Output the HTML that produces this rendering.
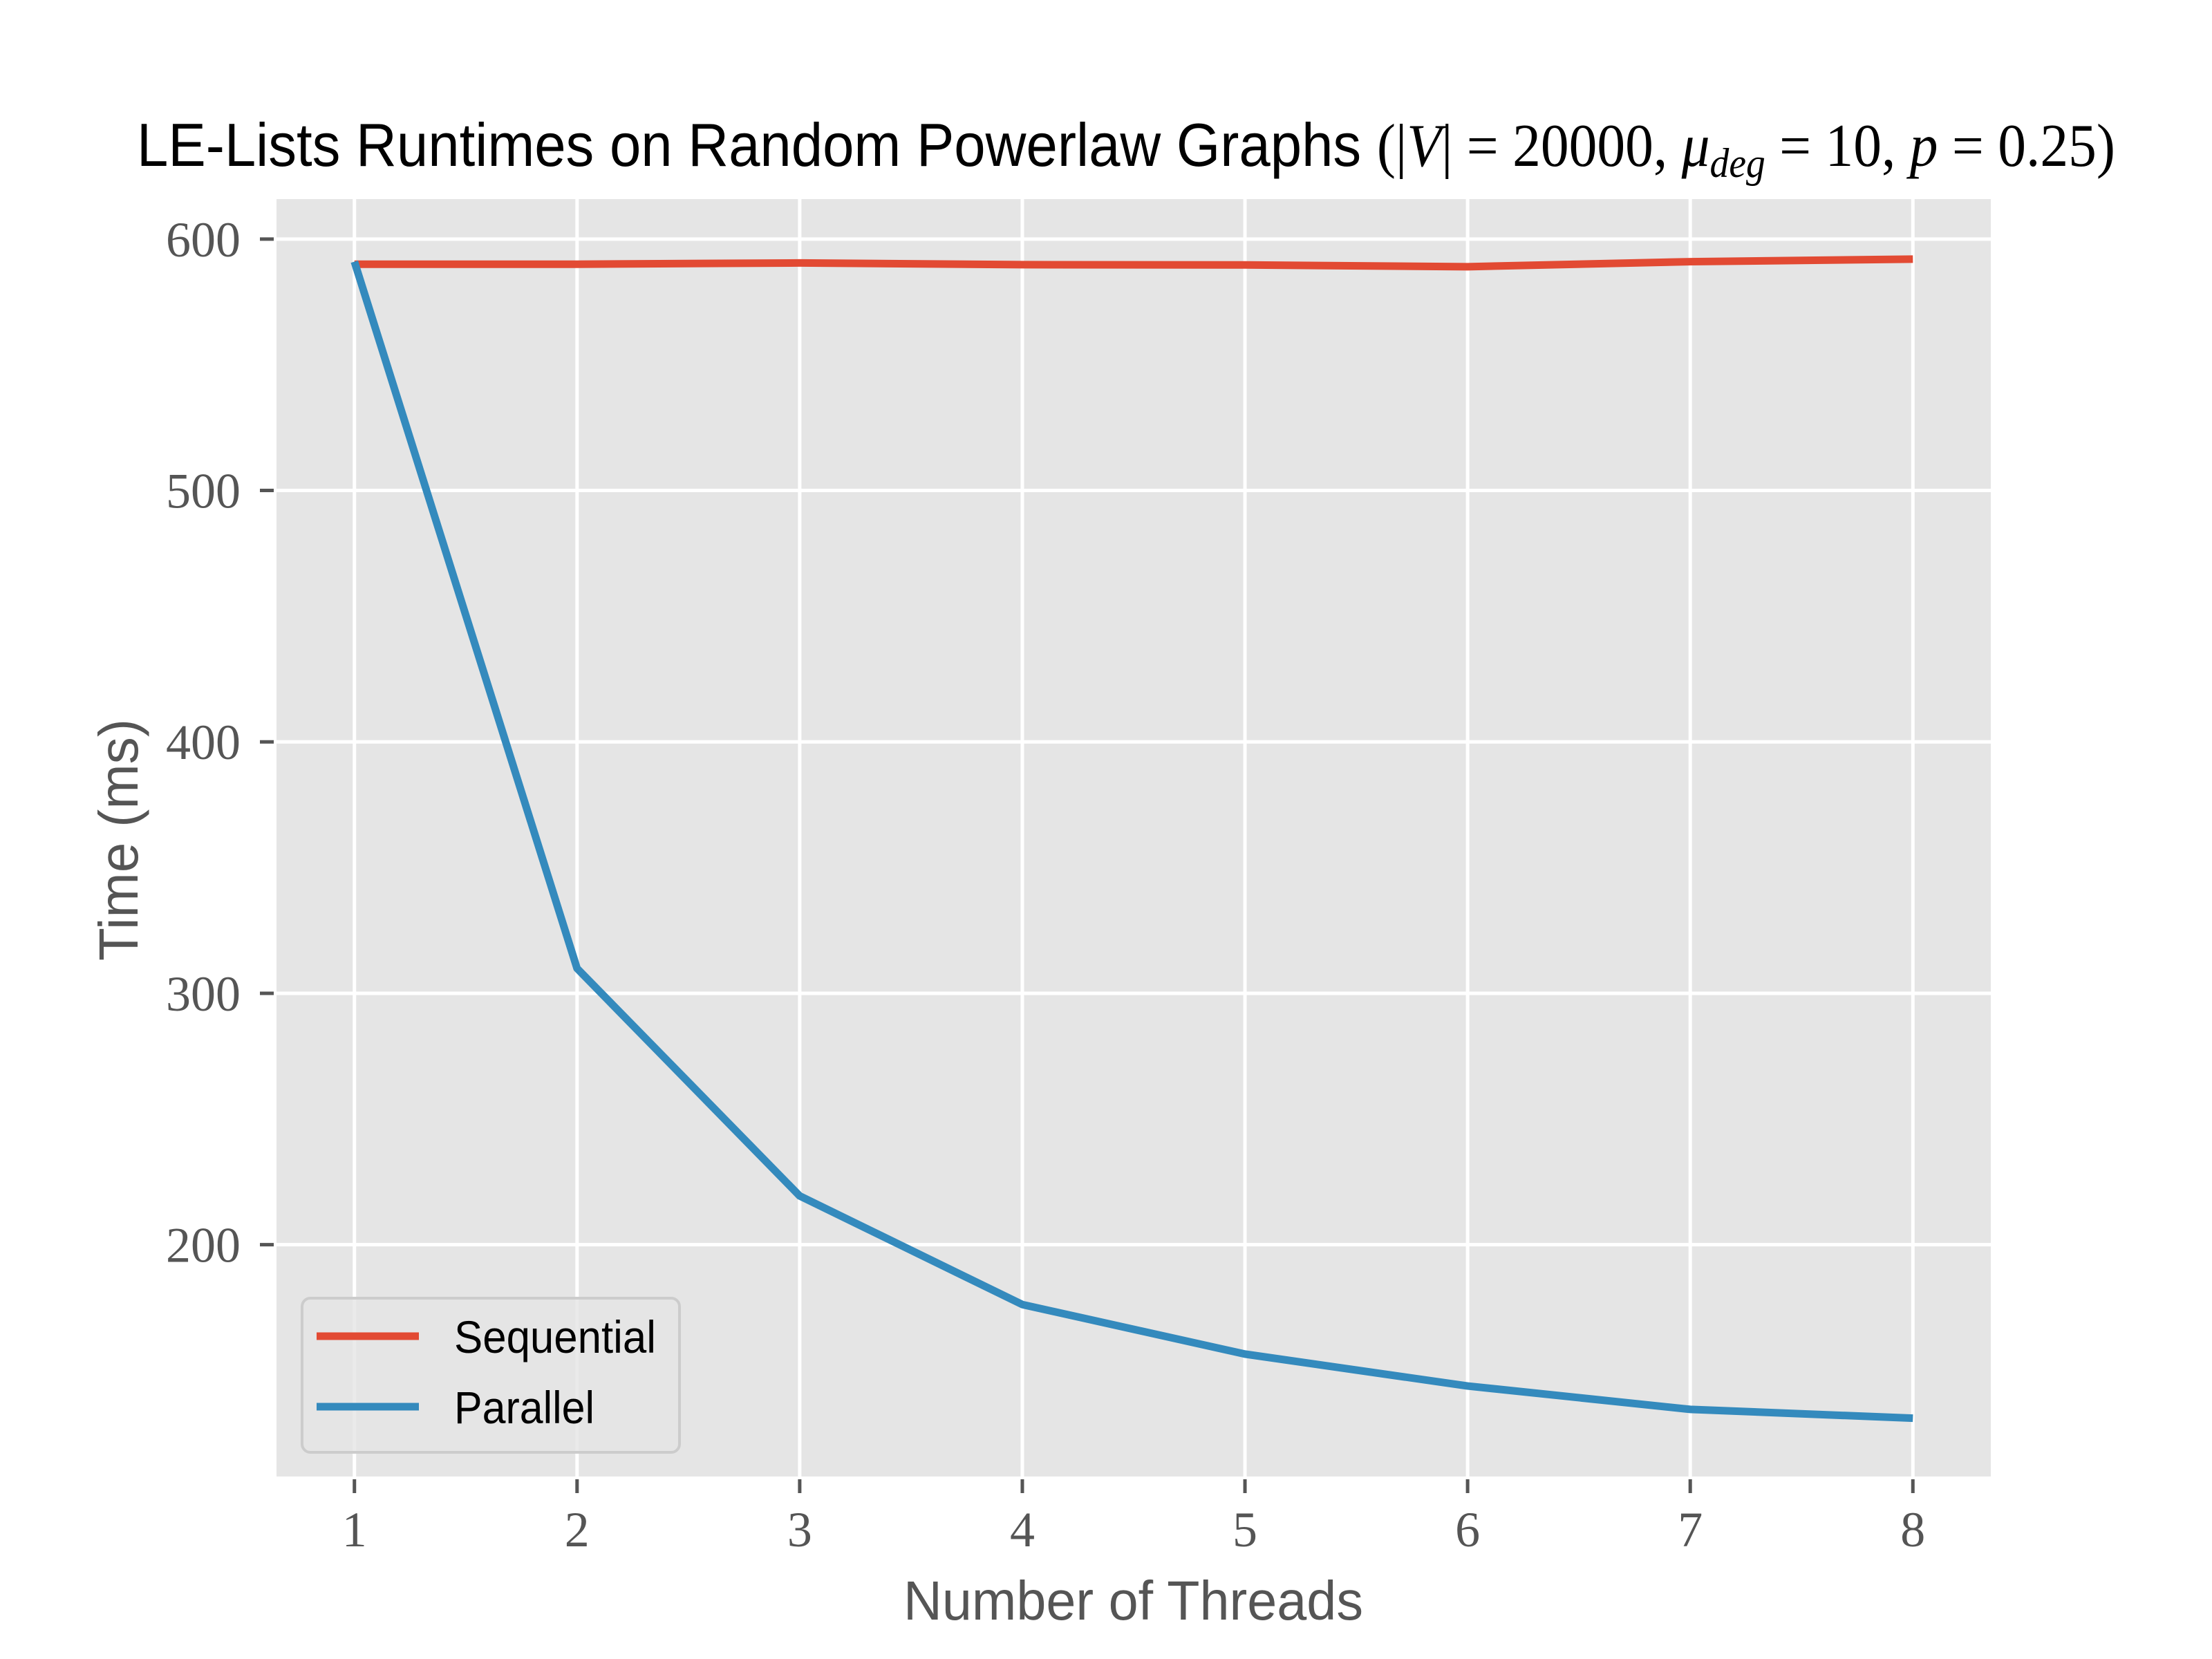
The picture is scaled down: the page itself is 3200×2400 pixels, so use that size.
<!DOCTYPE html>
<html><head><meta charset="utf-8"><style>
html,body{margin:0;padding:0;background:#fff;}
svg{display:block;}
text{font-family:"Liberation Sans",sans-serif;}
.tick{font-family:"Liberation Serif",serif;font-size:72px;fill:#555;}
</style></head><body>
<svg id="chart" width="3200" height="2400" viewBox="0 0 3200 2400" xmlns="http://www.w3.org/2000/svg">
<text x="198" y="240" font-size="88" fill="#000" textLength="2862" lengthAdjust="spacingAndGlyphs">LE-Lists Runtimes on Random Powerlaw Graphs <tspan font-family="Liberation Serif">(|<tspan font-style="italic">V</tspan>| = 20000, <tspan font-style="italic">μ</tspan><tspan font-style="italic" font-size="60" dy="16">deg</tspan><tspan dy="-16"> = 10, </tspan><tspan font-style="italic">p</tspan> = 0.25)</tspan></text>
<rect x="400" y="288" width="2480" height="1848" fill="#E5E5E5"/>
<g id="grid"></g>
<g id="ticks"></g>
<g id="series"></g>
<text x="1307" y="2343" font-size="80" fill="#555" textLength="665" lengthAdjust="spacingAndGlyphs">Number of Threads</text>
<text transform="translate(199,1390) rotate(-90)" font-size="80" fill="#555" textLength="350" lengthAdjust="spacingAndGlyphs">Time (ms)</text>
<g>
<rect x="437" y="1878" width="546" height="223" rx="12" fill="#E5E5E5" fill-opacity="0.8" stroke="#ccc" stroke-width="4"/>
<line x1="458" y1="1933" x2="606" y2="1933" stroke="#E24A33" stroke-width="11"/>
<text x="657" y="1957" font-size="66" fill="#000" textLength="292" lengthAdjust="spacingAndGlyphs">Sequential</text>
<line x1="458" y1="2035" x2="606" y2="2035" stroke="#348ABD" stroke-width="11"/>
<text x="657" y="2059" font-size="66" fill="#000" textLength="203" lengthAdjust="spacingAndGlyphs">Parallel</text>
</g>
</svg>
<script>
const threads = [1, 2, 3, 4, 5, 6, 7, 8];
const sequential = [590, 590, 590.5, 589.8, 589.7, 589, 591, 592];
const parallel = [591, 309.9, 219.4, 176.2, 156.5, 143.8, 134.5, 131.0];
const yTicks = [200, 300, 400, 500, 600];
const xTicks = [1, 2, 3, 4, 5, 6, 7, 8];

const NS = 'http://www.w3.org/2000/svg';
const L = 400, R = 2880, T = 288, B = 2136;
const XMIN = 0.65, XMAX = 8.35, YMIN = 107.8, YMAX = 615.9;
const xs = v => L + (v - XMIN) / (XMAX - XMIN) * (R - L);
const ys = v => B - (v - YMIN) / (YMAX - YMIN) * (B - T);
function mk(tag, attrs, parent) {
  const e = document.createElementNS(NS, tag);
  for (const k in attrs) e.setAttribute(k, attrs[k]);
  parent.appendChild(e);
  return e;
}
const grid = document.getElementById('grid');
const ticks = document.getElementById('ticks');
xTicks.forEach(t => {
  const g = mk('line', {x1: xs(t), x2: xs(t), y1: T, y2: B, stroke: '#fff', 'stroke-width': 5}, grid);
  
  
  const m = mk('line', {x1: xs(t), x2: xs(t), y1: B + 4, y2: B + 24, stroke: '#555', 'stroke-width': 5}, ticks);
  
  
  const lb = mk('text', {x: xs(t), y: 2237, 'text-anchor': 'middle', class: 'tick'}, ticks);
  lb.textContent = t;
  
  
});
yTicks.forEach(t => {
  const g = mk('line', {x1: L, x2: R, y1: ys(t), y2: ys(t), stroke: '#fff', 'stroke-width': 5}, grid);
  
  
  const m = mk('line', {x1: L - 24, x2: L - 4, y1: ys(t), y2: ys(t), stroke: '#555', 'stroke-width': 5}, ticks);
  
  
  const lb = mk('text', {x: 348, y: ys(t) + 25, 'text-anchor': 'end', class: 'tick'}, ticks);
  lb.textContent = t;
  
  
});
const series = document.getElementById('series');
[[sequential, '#E24A33', 'sequential-line'], [parallel, '#348ABD', 'parallel-line']].forEach(([vals, col, name]) => {
  const pts = vals.map((v, i) => xs(threads[i]) + ',' + ys(v)).join(' ');
  const p = mk('polyline', {points: pts, fill: 'none', stroke: col, 'stroke-width': 11, 'stroke-linejoin': 'round'}, series);
  
  
});
</script>
</body></html>
